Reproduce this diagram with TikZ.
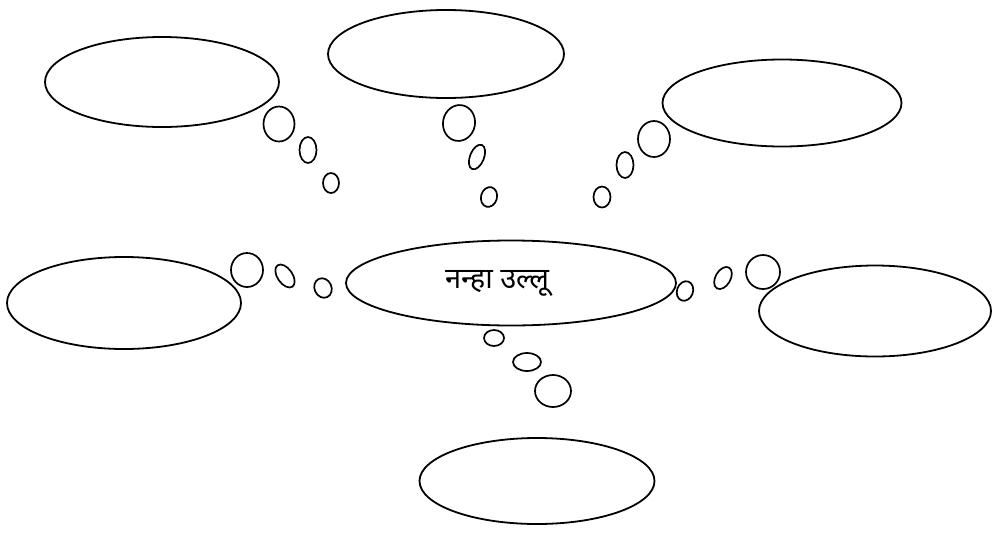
\documentclass[tikz,border=0pt]{standalone}
\usepackage{fontspec}
\newfontfamily\devfont[Script=Devanagari]{Noto Sans}
\usetikzlibrary{shapes.geometric}
\begin{document}
\begin{tikzpicture}[x=1pt,y=-1pt,
  bigbubble/.style={draw, line width=1.8pt, ellipse, inner sep=0pt},
  smallbubble/.style={draw, line width=1.7pt, ellipse, inner sep=0pt}]
\useasboundingbox (0,0) rectangle (993,539);
% big ellipses
\node[bigbubble, minimum width=234pt, minimum height=90pt] (tl) at (162,82) {};
\node[bigbubble, minimum width=236pt, minimum height=88pt] (tc) at (446,54) {};
\node[bigbubble, minimum width=239pt, minimum height=87pt] (tr) at (782,103) {};
\node[bigbubble, minimum width=234pt, minimum height=92pt] (lf) at (124,303) {};
\node[bigbubble, minimum width=330pt, minimum height=85pt] (ctr) at (511,283) {};
\node[bigbubble, minimum width=232pt, minimum height=91pt] (rt) at (875,311) {};
\node[bigbubble, minimum width=235pt, minimum height=86pt] (bt) at (537,481) {};
\node (label) at (497,283) {\devfont\fontsize{29}{32}\selectfont नन्हा उल्लू};
% top-left chain
\node[smallbubble, minimum width=31pt, minimum height=35pt] (tl1) at (279,124) {};
\node[smallbubble, minimum width=17pt, minimum height=26pt] (tl2) at (308,150) {};
\node[smallbubble, minimum width=16pt, minimum height=20pt] (tl3) at (331,183) {};
% top-center chain
\node[smallbubble, minimum width=32pt, minimum height=36pt, rotate=-10] (tc1) at (459,123) {};
\node[smallbubble, minimum width=14pt, minimum height=26pt, rotate=-22] (tc2) at (477,157) {};
\node[smallbubble, minimum width=16pt, minimum height=20pt, rotate=-15] (tc3) at (489,197) {};
% top-right chain
\node[smallbubble, minimum width=32pt, minimum height=36pt] (tr1) at (654,139) {};
\node[smallbubble, minimum width=17pt, minimum height=26pt] (tr2) at (625,165) {};
\node[smallbubble, minimum width=17pt, minimum height=21pt] (tr3) at (602,197) {};
% left chain
\node[smallbubble, minimum width=32pt, minimum height=34pt] (lf1) at (247,270) {};
\node[smallbubble, minimum width=15pt, minimum height=26pt, rotate=35] (lf2) at (285,276) {};
\node[smallbubble, minimum width=17pt, minimum height=20pt, rotate=25] (lf3) at (323,288) {};
% right chain
\node[smallbubble, minimum width=16pt, minimum height=20pt, rotate=-20] (rt3) at (685,291) {};
\node[smallbubble, minimum width=15pt, minimum height=24pt, rotate=-30] (rt2) at (723,278) {};
\node[smallbubble, minimum width=34pt, minimum height=34pt] (rt1) at (763,272) {};
% bottom chain
\node[smallbubble, minimum width=20pt, minimum height=16pt] (bt3) at (494,338) {};
\node[smallbubble, minimum width=28pt, minimum height=18pt] (bt2) at (527,362) {};
\node[smallbubble, minimum width=36pt, minimum height=32pt] (bt1) at (553,391) {};
\end{tikzpicture}
\end{document}
